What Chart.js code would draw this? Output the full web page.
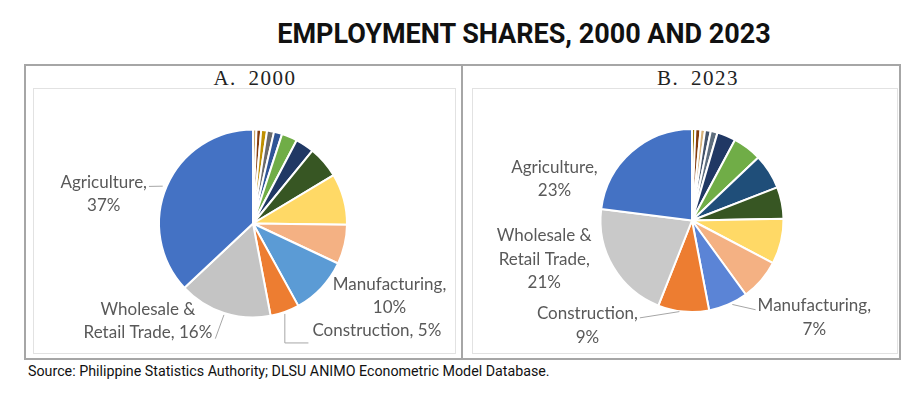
<!DOCTYPE html>
<html>
<head>
  <title>Employment Shares, 2000 and 2023</title>
  <script src="https://cdn.jsdelivr.net/npm/chart.js@4.4.0/dist/chart.umd.min.js"></script>
  <style>
    body {
      margin: 0;
      width: 921px;
      height: 393px;
      background: #fff;
      position: relative;
      overflow: hidden;
      font-family: Roboto, sans-serif;
    }
    #title {
      position: absolute;
      left: 224px;
      width: 600px;
      top: 18px;
      text-align: center;
      font: bold 27px Roboto, sans-serif;
      color: #111;
      white-space: nowrap;
    }
    #frame {
      position: absolute;
      left: 24px;
      top: 64px;
      width: 873px;
      height: 292px;
      border: 2px solid #a6a6a6;
    }
    #divider {
      position: absolute;
      left: 461px;
      top: 64px;
      width: 2px;
      height: 294px;
      background: #a6a6a6;
    }
    .head {
      position: absolute;
      top: 66px;
      width: 200px;
      font: 21px "Liberation Serif", serif;
      letter-spacing: 1.5px;
      word-spacing: 5px;
      color: #222;
      text-align: center;
    }
    .panel {
      position: absolute;
      top: 88px;
      height: 264px;
      border: 1px solid #e2e2e2;
    }
    .panel canvas {
      position: absolute;
      top: 0;
      left: 0;
    }
    #source {
      position: absolute;
      left: 28px;
      top: 362px;
      font: 15px Roboto, sans-serif;
      color: #111;
      transform: scaleX(0.95);
      transform-origin: 0 0;
      white-space: nowrap;
    }
  </style>
</head>
<body>
  <div id="title">EMPLOYMENT SHARES, 2000 AND 2023</div>
  <div id="frame"></div>
  <div id="divider"></div>
  <div class="head" style="left:155px;">A. 2000</div>
  <div class="head" style="left:598px;">B. 2023</div>
  <div class="panel" style="left:33px;width:421px;">
    <canvas id="pie2000" width="421" height="264"></canvas>
  </div>
  <div class="panel" style="left:472px;width:424px;">
    <canvas id="pie2023" width="424" height="264"></canvas>
  </div>
  <div id="source">Source: Philippine Statistics Authority; DLSU ANIMO Econometric Model Database.</div>
  <script>
    // sectors in drawing order, clockwise from 12 o'clock
    var sectors2000 = ['Other 1', 'Other 2', 'Other 3', 'Other 4', 'Other 5', 'Other 6', 'Other 7', 'Other 8',
      'Other 9', 'Other 10', 'Manufacturing', 'Construction', 'Wholesale & Retail Trade', 'Agriculture'];
    var shares2000 = [0.6, 0.8, 1.0, 1.2, 1.4, 2.7, 3.2, 5.5, 8.8, 6.8, 10, 5, 16, 37];
    var colors2000 = ['#C9A66B', '#843C0C', '#BF9000', '#6B6B6B', '#2F5597', '#70AD47', '#203864', '#375623',
      '#FFD966', '#F4B183', '#5B9BD5', '#ED7D31', '#C4C4C4', '#4472C4'];

    var sectors2023 = ['Other 1', 'Other 2', 'Other 3', 'Other 4', 'Other 5', 'Other 6', 'Other 7', 'Other 8',
      'Other 9', 'Other 10', 'Other 11', 'Manufacturing', 'Construction', 'Wholesale & Retail Trade', 'Agriculture'];
    var shares2023 = [0.6, 0.9, 0.8, 1.0, 1.2, 3.3, 5.1, 6.2, 5.6, 8.0, 7.3, 7, 9, 21, 23];
    var colors2023 = ['#997300', '#843C0C', '#D6B27A', '#44546A', '#5E6E7E', '#203864', '#70AD47', '#1F4E79',
      '#375623', '#FFD966', '#F4B183', '#5B84D6', '#ED7D31', '#C9C9C9', '#4472C4'];

    // label text for the named slices (index into the arrays above)
    var labels2000 = [
      { i: 13, lines: ['Agriculture,', '37%'], dx: -63, dy: 8, leader: 'side' },
      { i: 12, lines: ['Wholesale &', 'Retail Trade, 16%'], dx: -76, dy: 8, leader: 'down' },
      { i: 11, lines: ['Construction, 5%'], dx: 92, dy: 19, leader: 'corner' },
      { i: 10, lines: ['Manufacturing,', '10%'], dx: 68, dy: 8, leader: 'none' }
    ];
    var labels2023 = [
      { i: 14, lines: ['Agriculture,', '23%'], dx: -77, dy: 27, leader: 'none' },
      { i: 13, lines: ['Wholesale &', 'Retail Trade,', '21%'], dx: -69, dy: -8, leader: 'none' },
      { i: 12, lines: ['Construction,', '9%'], dx: -96, dy: 14, leader: 'side' },
      { i: 11, lines: ['Manufacturing,', '7%'], dx: 86, dy: 13, leader: 'side' }
    ];

    var outsideLabels = {
      id: 'outsideLabels',
      afterDatasetsDraw: function (chart, args, opts) {
        var ctx = chart.ctx;
        var arcs = chart.getDatasetMeta(0).data;
        var lh = 23.5;
        ctx.save();
        ctx.font = '17px Lato, sans-serif';
        ctx.fillStyle = '#595959';
        ctx.strokeStyle = '#a6a6a6';
        ctx.lineWidth = 1;
        ctx.textAlign = 'center';
        ctx.textBaseline = 'middle';
        opts.items.forEach(function (it) {
          var p = arcs[it.i].getProps(['x', 'y', 'startAngle', 'endAngle', 'outerRadius'], true);
          var mid = (p.startAngle + p.endAngle) / 2;
          var ex = p.x + Math.cos(mid) * p.outerRadius;
          var ey = p.y + Math.sin(mid) * p.outerRadius;
          var cx = ex + it.dx;
          var cy = ey + it.dy;
          var top = cy - (it.lines.length - 1) * lh / 2;
          var w = 0;
          it.lines.forEach(function (l, k) {
            ctx.fillText(l, cx, top + k * lh);
            w = Math.max(w, ctx.measureText(l).width);
          });
          ctx.beginPath();
          if (it.leader === 'side') {
            var hw = ctx.measureText(it.lines[0]).width / 2 + 2;
            var sx = it.dx < 0 ? cx + hw : cx - hw;
            ctx.moveTo(sx, top + 4);
            ctx.lineTo(ex + (it.dx < 0 ? -4 : 4), ey);
            ctx.stroke();
          } else if (it.leader === 'down') {
            var lastW = ctx.measureText(it.lines[it.lines.length - 1]).width;
            ctx.moveTo(cx + lastW / 2 + 3, top + lh + 6);
            ctx.lineTo(ex, ey + 2);
            ctx.stroke();
          } else if (it.leader === 'corner') {
            ctx.moveTo(ex, ey + 2);
            ctx.lineTo(ex, cy + 12);
            ctx.lineTo(cx - w / 2 - 4, cy + 12);
            ctx.stroke();
          }
        });
        ctx.restore();
      }
    };

    function makePie(id, sectors, shares, colors, labelItems, pad) {
      return new Chart(document.getElementById(id), {
        type: 'pie',
        data: {
          labels: sectors,
          datasets: [{
            data: shares,
            backgroundColor: colors,
            borderColor: '#ffffff',
            borderWidth: 2
          }]
        },
        options: {
          responsive: false,
          animation: false,
          layout: { padding: pad },
          plugins: {
            legend: { display: false },
            tooltip: { enabled: false },
            outsideLabels: { items: labelItems }
          }
        },
        plugins: [outsideLabels]
      });
    }

    makePie('pie2000', sectors2000, shares2000, colors2000, labels2000,
      { top: 39, bottom: 34, left: 124, right: 107 });
    makePie('pie2023', sectors2023, shares2023, colors2023, labels2023,
      { top: 39, bottom: 40, left: 126, right: 112 });
  </script>
</body>
</html>
